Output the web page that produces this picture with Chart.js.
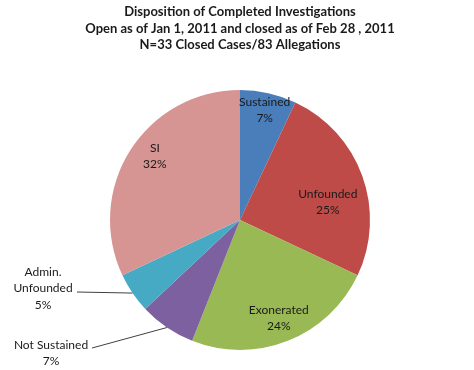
<!DOCTYPE html>
<html>
<head>
<meta charset="utf-8">
<script src="https://cdn.jsdelivr.net/npm/chart.js@4.4.0/dist/chart.umd.min.js"></script>
<style>
  html, body { margin: 0; padding: 0; background: #fff; }
  #wrap { width: 474px; height: 370px; position: relative; }
</style>
</head>
<body>
<div id="wrap"><canvas id="pie-canvas"></canvas></div>
<script>
const titleLines = [
  'Disposition of Completed Investigations',
  'Open as of Jan 1, 2011 and closed as of Feb 28 , 2011',
  'N=33 Closed Cases/83 Allegations'
];
const categories = ['Sustained', 'Unfounded', 'Exonerated', 'Not Sustained', 'Admin. Unfounded', 'SI'];
const labelLines = [['Sustained'], ['Unfounded'], ['Exonerated'], ['Not Sustained'], ['Admin.', 'Unfounded'], ['SI']];
const percents   = [7, 25, 24, 7, 5, 32];
const colors     = ['#4a7ebb', '#be4b48', '#98b954', '#7d60a0', '#46aac5', '#d69593'];

// label placement: inside (fraction of radius, angle shift in deg) or outside text block with leader
const placement = [
  { r: 0.87, da: 0 },
  { r: 0.69, da: 8 },
  { r: 0.81, da: 0 },
  { out: { x: 51, y: 345 }, from: { x: 92, y: 348 } },
  { out: { x: 43, y: 272 }, from: { x: 77, y: 292 } },
  { r: 0.82, da: 4.6 }
];

const FONT = 'Lato, "Liberation Sans", sans-serif';

const pieLabels = {
  id: 'pieLabels',
  afterDatasetsDraw(chart) {
    const ctx = chart.ctx;
    const arcs = chart.getDatasetMeta(0).data;
    ctx.save();
    ctx.font = '12px ' + FONT;
    ctx.fillStyle = '#1a1a1a';
    ctx.textAlign = 'center';
    ctx.textBaseline = 'middle';
    arcs.forEach((arc, i) => {
      const lines = [...labelLines[i], percents[i] + '%'];
      const p = placement[i];
      const mid = (arc.startAngle + arc.endAngle) / 2;
      if (p.out) {
        const ex = arc.x + Math.cos(mid) * arc.outerRadius;
        const ey = arc.y + Math.sin(mid) * arc.outerRadius;
        ctx.strokeStyle = '#404040';
        ctx.lineWidth = 1;
        ctx.beginPath();
        ctx.moveTo(p.from.x, p.from.y);
        ctx.lineTo(ex, ey);
        ctx.stroke();
        lines.forEach((t, k) => ctx.fillText(t, p.out.x, p.out.y + k * 16.5));
      } else {
        const a = mid + p.da * Math.PI / 180;
        const cx = arc.x + Math.cos(a) * arc.outerRadius * p.r;
        const cy = arc.y + Math.sin(a) * arc.outerRadius * p.r;
        const y0 = cy - (lines.length - 1) * 16 / 2;
        lines.forEach((t, k) => ctx.fillText(t, cx, y0 + k * 16));
      }
    });
    ctx.restore();
  }
};

new Chart(document.getElementById('pie-canvas'), {
  type: 'pie',
  data: {
    labels: categories,
    datasets: [{
      data: percents,
      backgroundColor: colors,
      borderWidth: 0
    }]
  },
  options: {
    responsive: true, maintainAspectRatio: false,
    animation: false,
    layout: { padding: { left: 6, right: 0, top: 0, bottom: 20 } },
    plugins: {
      legend: { display: false },
      tooltip: { enabled: false },
      title: {
        display: true,
        text: titleLines,
        color: '#1a1a1a',
        font: { family: FONT, size: 13, weight: 'bold', lineHeight: 1.27 },
        padding: { top: 4, bottom: 36.5 }
      }
    }
  },
  plugins: [pieLabels]
});
</script>
</body>
</html>
